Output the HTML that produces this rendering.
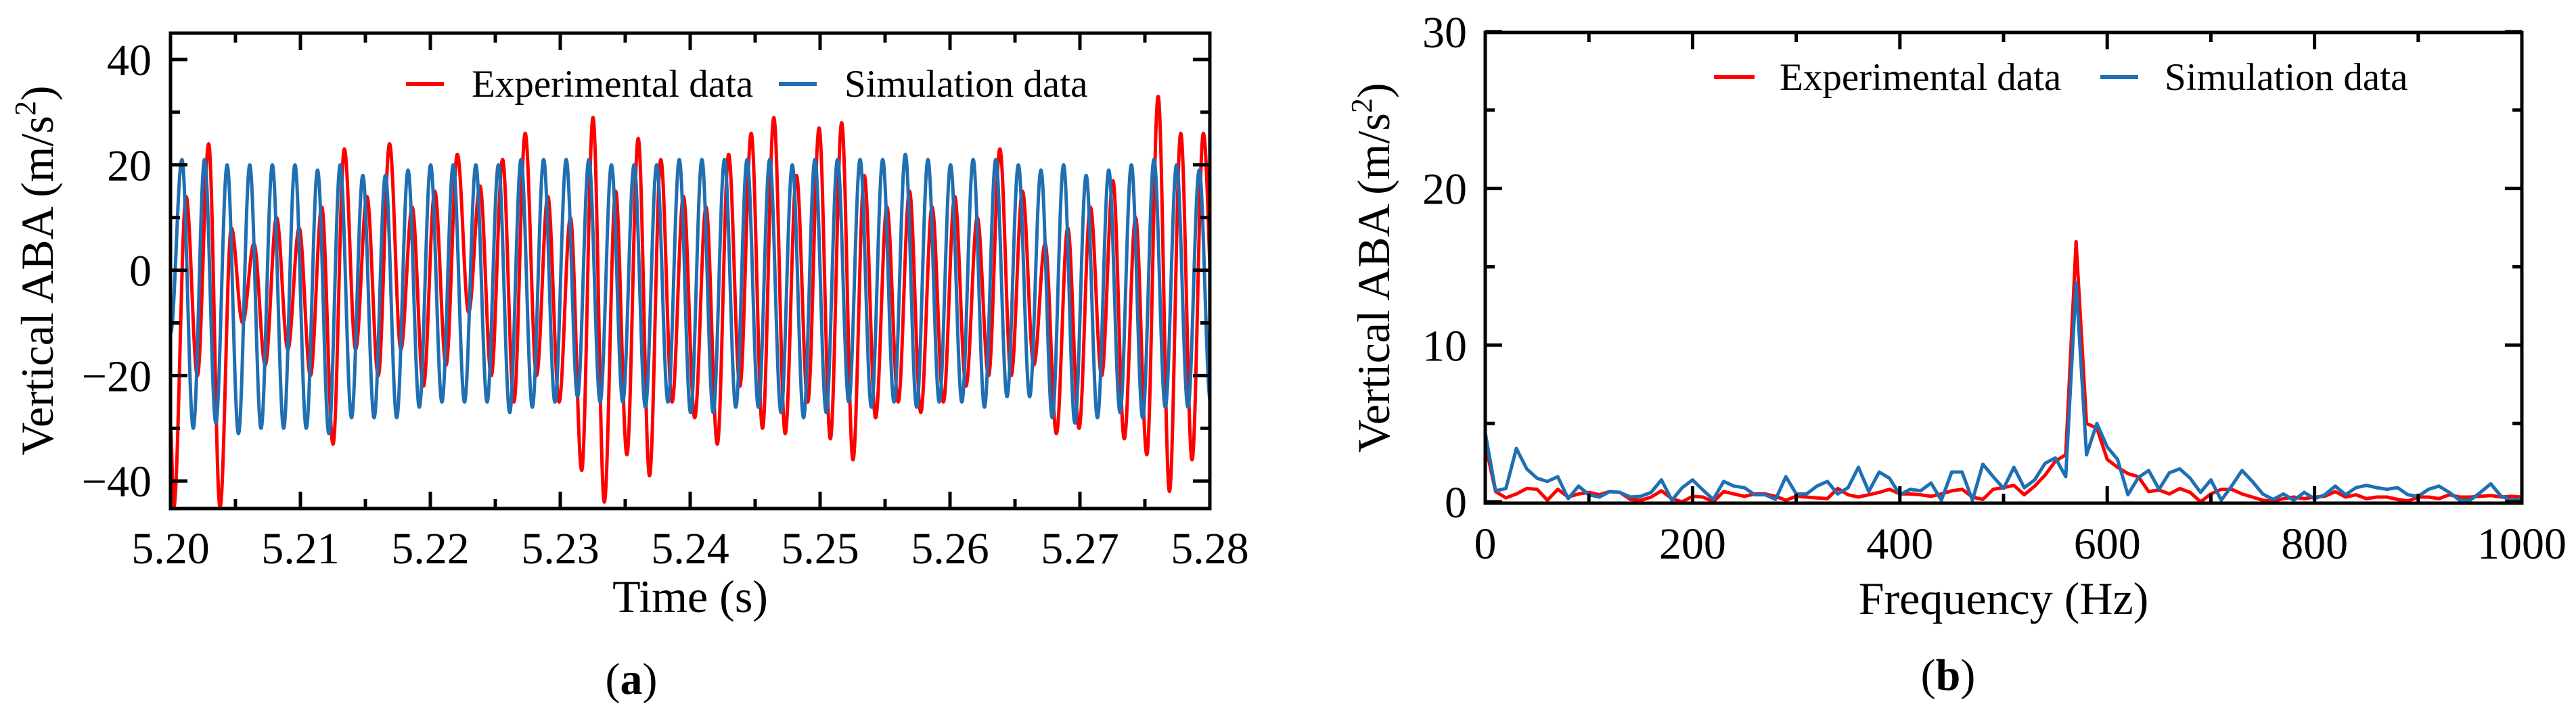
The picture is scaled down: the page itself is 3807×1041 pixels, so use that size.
<!DOCTYPE html>
<html><head><meta charset="utf-8"><style>
html,body{margin:0;padding:0;background:#fff;}
svg{display:block;font-family:"Liberation Serif","Times New Roman",serif;}
</style></head><body>
<svg id="fig" width="3807" height="1041" viewBox="0 0 3807 1041" xmlns="http://www.w3.org/2000/svg">
<defs>
<clipPath id="clipA"><rect x="252" y="49" width="1536" height="703"/></clipPath>
<clipPath id="clipB"><rect x="2195" y="48" width="1532" height="696"/></clipPath>
</defs>
<g id="panelA">
<g id="aSeries" clip-path="url(#clipA)"></g>
<g id="aTicks"></g>
<rect x="252" y="49" width="1536" height="703" fill="none" stroke="#000" stroke-width="5"/>
<g id="aLabels" font-size="66"></g>
<text x="1020" y="905" font-size="68" text-anchor="middle">Time (s)</text>
<text transform="translate(78,400) rotate(-90)" font-size="68" text-anchor="middle">Vertical ABA (m/s<tspan font-size="44" dy="-26">2</tspan><tspan dy="26">)</tspan></text>
<g>
<line x1="600" y1="124" x2="656" y2="124" stroke="#ff0000" stroke-width="6"/>
<text x="697" y="143" font-size="57">Experimental data</text>
<line x1="1151" y1="124" x2="1207" y2="124" stroke="#1f6fb2" stroke-width="6"/>
<text x="1248" y="143" font-size="57">Simulation data</text>
</g>
<text x="933" y="1026" font-size="66" text-anchor="middle">(<tspan font-weight="bold">a</tspan>)</text>
</g>
<g id="panelB">
<g id="bSeries" clip-path="url(#clipB)"></g>
<g id="bTicks"></g>
<rect x="2195" y="48" width="1532" height="696" fill="none" stroke="#000" stroke-width="5"/>
<g id="bLabels" font-size="66"></g>
<text x="2961" y="908" font-size="68" text-anchor="middle">Frequency (Hz)</text>
<text transform="translate(2053,396) rotate(-90)" font-size="68" text-anchor="middle">Vertical ABA (m/s<tspan font-size="44" dy="-26">2</tspan><tspan dy="26">)</tspan></text>
<g>
<line x1="2533" y1="114" x2="2593" y2="114" stroke="#ff0000" stroke-width="6"/>
<text x="2630" y="133" font-size="57">Experimental data</text>
<line x1="3104" y1="114" x2="3160" y2="114" stroke="#1f6fb2" stroke-width="6"/>
<text x="3199" y="133" font-size="57">Simulation data</text>
</g>
<text x="2879" y="1020" font-size="66" text-anchor="middle">(<tspan font-weight="bold">b</tspan>)</text>
</g>
</svg>
<script>
// ---- Panel (a) data: time-domain ----
const aXTicks = [5.20,5.21,5.22,5.23,5.24,5.25,5.26,5.27,5.28];
const aXTickLabels = ["5.20","5.21","5.22","5.23","5.24","5.25","5.26","5.27","5.28"];
const aYTicks = [-40,-20,0,20,40];
const aYTickLabels = ["\u221240","\u221220","0","20","40"];
const cyclePeriod = 0.00174;
const blueStart = -12;
const bluePhase = 5.20088;
const bluePeaks = [21,21,20,20,20,20,19,20,18,18,19,20,20,20,20,21,21,21,21,20,20,20,21,21,21,21,21,20,21,21,21,21,22,21,20,21,21,20,19,20,18,19,20,21,20,19];
const blueTroughs = [-30,-29,-31,-30,-30,-30,-31,-28,-28,-28,-26,-25,-25,-25,-27,-26,-25,-24,-25,-25,-26,-25,-27,-27,-26,-26,-27,-28,-27,-25,-26,-25,-26,-25,-25,-26,-24,-24,-28,-29,-28,-27,-28,-26,-26,-25];
const redStart = [-30,-45];
const redPhase = 5.2012;
const redPeaks = [14,24,8,5,10,8,12,23,14,24,12,15,22,16,21,26,14,10,29,15,25,21,14,12,22,26,29,18,27,28,18,12,15,12,14,10,23,15,5,8,12,17,10,33,26,26];
const redTroughs = [-20,-45,-10,-18,-15,-20,-33,-15,-20,-15,-22,-18,-8,-20,-25,-20,-25,-38,-44,-35,-39,-25,-28,-33,-22,-30,-31,-25,-32,-36,-28,-25,-27,-25,-22,-20,-20,-18,-31,-30,-20,-32,-35,-42,-36,-15];

// ---- Panel (b) data: spectrum (10 Hz bins, 0..1000 Hz) ----
const bXTicks = [0,200,400,600,800,1000];
const bXTickLabels = ["0","200","400","600","800","1000"];
const bYTicks = [0,10,20,30];
const bYTickLabels = ["0","10","20","30"];
const freqStep = 10;
const expSpectrum = [3.7,0.65,0.25,0.5,0.85,0.8,0.1,0.8,0.3,0.5,0.6,0.45,0.65,0.6,0.15,0.1,0.3,0.7,0.2,0.0,0.35,0.3,0.0,0.65,0.5,0.35,0.5,0.5,0.35,0.1,0.35,0.3,0.25,0.2,0.85,0.45,0.3,0.45,0.6,0.8,0.5,0.5,0.45,0.35,0.5,0.7,0.8,0.3,0.15,0.8,0.9,1.05,
 0.45,1.0,1.7,2.6,3.0,16.6,5.0,4.7,2.7,2.2,1.8,1.6,0.65,0.75,0.5,0.85,0.6,0.0,0.5,0.8,0.8,0.5,0.3,0.1,0.05,0.2,0.3,0.2,0.3,0.35,0.65,0.3,0.45,0.2,0.3,0.3,0.15,0.05,0.3,0.3,0.2,0.45,0.3,0.3,0.35,0.4,0.3,0.35,0.3];
const simSpectrum = [4.4,0.7,0.85,3.4,2.1,1.5,1.3,1.6,0.2,1.0,0.45,0.3,0.65,0.6,0.3,0.35,0.6,1.4,0.1,0.9,1.4,0.75,0.15,1.3,1.0,0.9,0.45,0.45,0.15,1.6,0.5,0.5,1.0,1.3,0.5,0.9,2.2,0.65,1.9,1.5,0.45,0.8,0.7,1.2,0.1,1.9,1.9,0.1,2.4,1.6,0.85,2.2,
 0.9,1.4,2.45,2.8,1.6,14.0,3.0,5.0,3.5,2.7,0.45,1.55,2.0,0.8,1.85,2.1,1.5,0.6,1.4,0.1,1.0,2.0,1.3,0.5,0.15,0.5,0.1,0.6,0.2,0.45,1.0,0.45,0.9,1.05,0.9,0.8,0.9,0.45,0.35,0.8,1.0,0.6,0.1,0.1,0.6,1.15,0.35,0.1,0.2];

const NS = "http://www.w3.org/2000/svg";
function mk(tag, attrs, parent){ const e=document.createElementNS(NS,tag); for(const k in attrs) e.setAttribute(k,attrs[k]); parent.appendChild(e); return e; }

const axA = { x:t=>252+(t-5.20)/0.08*1536, y:v=>88+(40-v)*7.79 };
const axB = { x:f=>2195+f*1.532, y:v=>742-v*23.17 };

function buildWave(start0, startVals, phase, peaks, troughs){
  const pts=[];
  startVals.forEach((v,i)=>pts.push([start0+i*0.00025, v]));
  for(let k=0;k<peaks.length;k++){
    pts.push([phase+k*cyclePeriod, peaks[k]]);
    pts.push([phase+(k+0.5)*cyclePeriod, troughs[k]]);
  }
  return pts;
}
function smoothPath(pts){
  const P=pts.map(p=>[axA.x(p[0]),axA.y(p[1])]);
  let d='M'+P[0][0].toFixed(1)+','+P[0][1].toFixed(1);
  for(let i=1;i<P.length;i++){
    const a=P[i-1], b=P[i], dx=(b[0]-a[0])*0.36;
    d+=' C'+(a[0]+dx).toFixed(1)+','+a[1].toFixed(1)+' '+(b[0]-dx).toFixed(1)+','+b[1].toFixed(1)+' '+b[0].toFixed(1)+','+b[1].toFixed(1);
  }
  return d;
}
const aSeries=document.getElementById('aSeries');
const redPts=buildWave(5.20,redStart,redPhase,redPeaks,redTroughs);
const bluePts=buildWave(5.20,[blueStart],bluePhase,bluePeaks,blueTroughs);
const redLine=mk('path',{d:smoothPath(redPts),fill:'none',stroke:'#ff0000','stroke-width':5,'stroke-linejoin':'round'},aSeries);


const blueLine=mk('path',{d:smoothPath(bluePts),fill:'none',stroke:'#1f6fb2','stroke-width':5,'stroke-linejoin':'round'},aSeries);



const aT=document.getElementById('aTicks'), aL=document.getElementById('aLabels');
for(let i=0;i<aXTicks.length;i++){
  const x=axA.x(aXTicks[i]);
  mk('line',{x1:x,y1:752,x2:x,y2:727,stroke:'#000','stroke-width':5},aT);
  mk('line',{x1:x,y1:49,x2:x,y2:74,stroke:'#000','stroke-width':5},aT);
  if(i<aXTicks.length-1){ const xm=axA.x(aXTicks[i]+0.005);
    mk('line',{x1:xm,y1:752,x2:xm,y2:738,stroke:'#000','stroke-width':5},aT);
    mk('line',{x1:xm,y1:49,x2:xm,y2:63,stroke:'#000','stroke-width':5},aT);}
  const t=mk('text',{x:x,y:833,'text-anchor':'middle'},aL); t.textContent=aXTickLabels[i];
  
  
}
for(let i=0;i<aYTicks.length;i++){
  const y=axA.y(aYTicks[i]);
  mk('line',{x1:252,y1:y,x2:277,y2:y,stroke:'#000','stroke-width':5},aT);
  mk('line',{x1:1788,y1:y,x2:1763,y2:y,stroke:'#000','stroke-width':5},aT);
  if(i<aYTicks.length-1){ const ym=axA.y(aYTicks[i]+10);
    mk('line',{x1:252,y1:ym,x2:266,y2:ym,stroke:'#000','stroke-width':5},aT);
    mk('line',{x1:1788,y1:ym,x2:1774,y2:ym,stroke:'#000','stroke-width':5},aT);}
  const t=mk('text',{x:224,y:y+23,'text-anchor':'end'},aL); t.textContent=aYTickLabels[i];
  
  
}

const bSeries=document.getElementById('bSeries');
const expLine=mk('polyline',{points:expSpectrum.map((v,i)=>axB.x(i*freqStep).toFixed(1)+','+axB.y(v).toFixed(1)).join(' '),fill:'none',stroke:'#ff0000','stroke-width':5,'stroke-linejoin':'round'},bSeries);


const simLine=mk('polyline',{points:simSpectrum.map((v,i)=>axB.x(i*freqStep).toFixed(1)+','+axB.y(v).toFixed(1)).join(' '),fill:'none',stroke:'#1f6fb2','stroke-width':5,'stroke-linejoin':'round'},bSeries);



const bT=document.getElementById('bTicks'), bL=document.getElementById('bLabels');
for(let i=0;i<bXTicks.length;i++){
  const x=axB.x(bXTicks[i]);
  mk('line',{x1:x,y1:744,x2:x,y2:719,stroke:'#000','stroke-width':5},bT);
  mk('line',{x1:x,y1:48,x2:x,y2:73,stroke:'#000','stroke-width':5},bT);
  if(i<bXTicks.length-1){ const xm=axB.x(bXTicks[i]+100);
    mk('line',{x1:xm,y1:744,x2:xm,y2:730,stroke:'#000','stroke-width':5},bT);
    mk('line',{x1:xm,y1:48,x2:xm,y2:62,stroke:'#000','stroke-width':5},bT);}
  const t=mk('text',{x:x,y:826,'text-anchor':'middle'},bL); t.textContent=bXTickLabels[i];
  
  
}
for(let i=0;i<bYTicks.length;i++){
  const y=axB.y(bYTicks[i]);
  mk('line',{x1:2195,y1:y,x2:2220,y2:y,stroke:'#000','stroke-width':5},bT);
  mk('line',{x1:3727,y1:y,x2:3702,y2:y,stroke:'#000','stroke-width':5},bT);
  if(i<bYTicks.length-1){ const ym=axB.y(bYTicks[i]+5);
    mk('line',{x1:2195,y1:ym,x2:2209,y2:ym,stroke:'#000','stroke-width':5},bT);
    mk('line',{x1:3727,y1:ym,x2:3713,y2:ym,stroke:'#000','stroke-width':5},bT);}
  const t=mk('text',{x:2168,y:y+23,'text-anchor':'end'},bL); t.textContent=bYTickLabels[i];
  
  
}
</script>
</body></html>
